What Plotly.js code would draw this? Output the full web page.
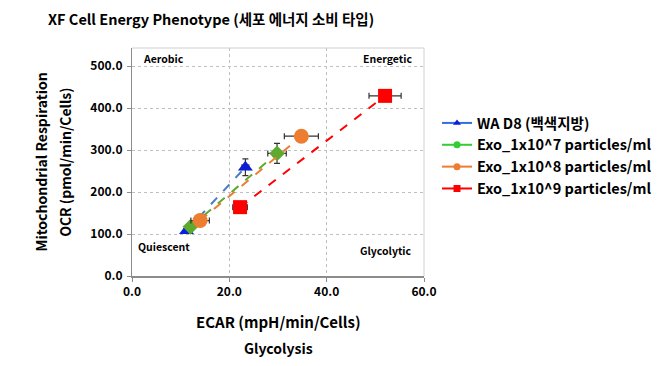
<!DOCTYPE html>
<html><head><meta charset="utf-8">
<script src="https://cdn.plot.ly/plotly-3.0.1.min.js"></script>
<style>html,body{margin:0;padding:0;background:#fff}</style>
</head><body>
<div id="chart" style="width:669px;height:366px"></div>
<script>
const seriesNames = ["WA D8 (백색지방)", "Exo_1x10^7 particles/ml", "Exo_1x10^8 particles/ml", "Exo_1x10^9 particles/ml"];
const ecar_wa = [11.2, 23.3];
const ocr_wa = [108, 259];
const ecarErr_wa = [0.4, 0.7];
const ocrErr_wa = [5, 20];
const ecar_e7 = [12.0, 29.8];
const ocr_e7 = [117, 292];
const ecarErr_e7 = [0.5, 1.9];
const ocrErr_e7 = [5, 24];
const ecar_e8 = [14.0, 34.8];
const ocr_e8 = [132, 333];
const ecarErr_e8 = [1.9, 3.5];
const ocrErr_e8 = [4, 8];
const ecar_e9 = [22.2, 52.0];
const ocr_e9 = [164, 429];
const ecarErr_e9 = [1.5, 3.3];
const ocrErr_e9 = [4, 6];
const xTicks = [0, 20, 40, 60];
const yTicks = [0, 100, 200, 300, 400, 500];
const quadrantLabels = ["Aerobic", "Energetic", "Quiescent", "Glycolytic"];

const F = "'Noto Sans CJK KR', 'Noto Sans', sans-serif";
const errCol = "#333333";
function series(x, y, ex, ey, lineCol, markCol, sym, size) {
  return {
    type: "scatter", mode: "lines+markers", x: x, y: y, showlegend: false,
    line: {color: lineCol, width: 2, dash: "dash"},
    marker: {symbol: sym, size: size, color: markCol},
    error_x: {type: "data", array: ex, visible: true, color: errCol, thickness: 1.2, width: 3},
    error_y: {type: "data", array: ey, visible: true, color: errCol, thickness: 1.2, width: 3}
  };
}
function legendTrace(name, lineCol, markCol, sym) {
  return {type: "scatter", mode: "lines+markers", x: [null], y: [null], name: "<b>" + name + "</b>",
    line: {color: lineCol, width: 2}, marker: {symbol: sym, size: 7, color: markCol}};
}
const data = [
  series(ecar_wa, ocr_wa, ecarErr_wa, ocrErr_wa, "#4A7CC9", "#0A1FD6", "triangle-up", 13),
  series(ecar_e7, ocr_e7, ecarErr_e7, ocrErr_e7, "#5DAA2E", "#5DAA2E", "diamond", 12),
  series(ecar_e8, ocr_e8, ecarErr_e8, ocrErr_e8, "#ED7D31", "#ED7D31", "circle", 15),
  series(ecar_e9, ocr_e9, ecarErr_e9, ocrErr_e9, "#FF0000", "#FF0000", "square", 14),
  legendTrace(seriesNames[0], "#2F6FE0", "#0A1FD6", "triangle-up"),
  legendTrace(seriesNames[1], "#33CC33", "#33CC33", "circle"),
  legendTrace(seriesNames[2], "#ED7D31", "#ED7D31", "circle"),
  legendTrace(seriesNames[3], "#FF0000", "#FF0000", "square")
];
const layout = {
  width: 669, height: 366,
  margin: {l: 132, r: 245, t: 48, b: 90},
  paper_bgcolor: "#fff", plot_bgcolor: "#fff",
  font: {family: F, color: "#000"},
  title: {text: "<b>XF Cell Energy Phenotype (세포 에너지 소비 타입)</b>", font: {size: 14.5, family: F},
    x: 48/669, xanchor: "left", y: 0.945, yanchor: "middle"},
  xaxis: {range: [0, 60], tickvals: xTicks, ticktext: xTicks.map(v => "<b>" + v.toFixed(1) + "</b>"),
    tickfont: {size: 12}, showgrid: true, gridcolor: "#BFBFBF", griddash: "3px,3px", gridwidth: 1,
    zeroline: false, showline: true, linecolor: "#8C8C8C", linewidth: 1.5, mirror: false,
    ticks: "outside", ticklen: 4, tickcolor: "#8C8C8C", fixedrange: true},
  yaxis: {range: [0, 543], tickvals: yTicks, ticktext: yTicks.map(v => "<b>" + v.toFixed(1) + "</b>"),
    tickfont: {size: 12}, showgrid: true, gridcolor: "#BFBFBF", griddash: "3px,3px", gridwidth: 1,
    zeroline: false, showline: true, linecolor: "#8C8C8C", linewidth: 1, mirror: false,
    ticks: "outside", ticklen: 4, tickcolor: "#8C8C8C", ticklabelstandoff: 2, fixedrange: true},
  legend: {x: 437/669, xanchor: "left", y: 1 - 107/366, yanchor: "top", yref: "container", xref: "container",
    font: {size: 14.5, family: F}, tracegroupgap: 0, itemwidth: 30, bgcolor: "rgba(0,0,0,0)"},
  shapes: [
    {type: "line", xref: "paper", yref: "paper", x0: 0, x1: 1, y0: 1, y1: 1, line: {color: "#D0D0D0", width: 1}},
    {type: "line", xref: "paper", yref: "paper", x0: 1, x1: 1, y0: 0, y1: 1, line: {color: "#D0D0D0", width: 1}}
  ],
  annotations: [
    {text: "<b>" + quadrantLabels[0] + "</b>", xref: "paper", yref: "paper", x: 0.03, y: 0.952, xanchor: "left", yanchor: "middle", showarrow: false, font: {size: 10.5}},
    {text: "<b>" + quadrantLabels[1] + "</b>", xref: "paper", yref: "paper", x: 0.965, y: 0.952, xanchor: "right", yanchor: "middle", showarrow: false, font: {size: 10.5}},
    {text: "<b>" + quadrantLabels[2] + "</b>", xref: "paper", yref: "paper", x: 0.015, y: 0.13, xanchor: "left", yanchor: "middle", showarrow: false, font: {size: 10.5}},
    {text: "<b>" + quadrantLabels[3] + "</b>", xref: "paper", yref: "paper", x: 0.965, y: 0.114, xanchor: "right", yanchor: "middle", showarrow: false, font: {size: 10.5}},
    {text: "<b>Mitochondrial Respiration</b>", xref: "paper", yref: "paper", x: -0.31, y: 0.5, xanchor: "center", yanchor: "middle", textangle: -90, showarrow: false, font: {size: 14}},
    {text: "<b>OCR (pmol/min/Cells)</b>", xref: "paper", yref: "paper", x: -0.23, y: 0.5, xanchor: "center", yanchor: "middle", textangle: -90, showarrow: false, font: {size: 14}},
    {text: "<b>ECAR (mpH/min/Cells)</b>", xref: "paper", yref: "paper", x: 0.5, y: -0.2, xanchor: "center", yanchor: "middle", showarrow: false, font: {size: 15}},
    {text: "<b>Glycolysis</b>", xref: "paper", yref: "paper", x: 0.5, y: -0.315, xanchor: "center", yanchor: "middle", showarrow: false, font: {size: 14}}
  ]
};
Plotly.newPlot("chart", data, layout, {displayModeBar: false, staticPlot: true});
</script>
</body></html>
